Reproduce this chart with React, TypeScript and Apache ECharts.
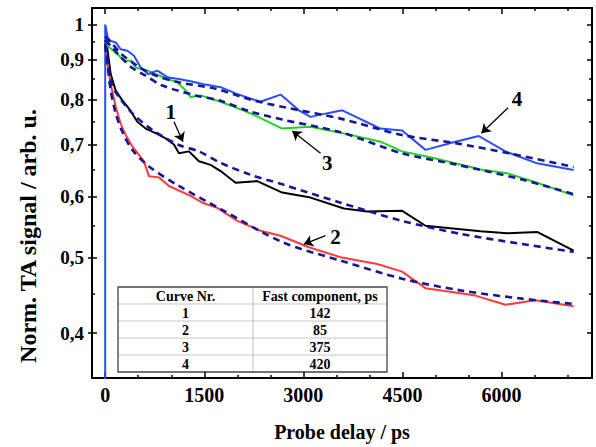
import React, { useEffect, useRef } from "react";
import * as echarts from "echarts";

// ---- data (time in ps, normalized signal) ----
const curve1Black: [number, number][] = [
  [0, 0.955], [33, 0.93], [83, 0.863], [159, 0.822], [260, 0.798], [360, 0.779], [487, 0.749],
  [613, 0.734], [764, 0.724], [915, 0.713], [1041, 0.7], [1117, 0.682], [1268, 0.686],
  [1419, 0.666], [1596, 0.659], [1747, 0.647], [1974, 0.625], [2302, 0.628], [2680, 0.607],
  [3109, 0.598], [3613, 0.579], [3966, 0.574], [4496, 0.575], [4849, 0.55], [5681, 0.541],
  [6085, 0.538], [6538, 0.54], [7092, 0.511],
];
const curve2Red: [number, number][] = [
  [0, 0.93], [33, 0.889], [83, 0.838], [159, 0.783], [234, 0.745], [310, 0.72], [411, 0.696],
  [587, 0.666], [663, 0.637], [814, 0.635], [965, 0.619], [1293, 0.601], [1470, 0.589],
  [1697, 0.58], [2000, 0.558], [2352, 0.542], [2655, 0.534], [3083, 0.516], [3563, 0.501],
  [4118, 0.491], [4496, 0.48], [4849, 0.457], [5378, 0.45], [5605, 0.447], [6059, 0.435],
  [6513, 0.441], [7092, 0.433],
];
const curve3Green: [number, number][] = [
  [0, 0.955], [33, 0.938], [159, 0.92], [284, 0.898], [386, 0.898], [461, 0.88], [638, 0.872],
  [941, 0.851], [1092, 0.842], [1230, 0.82], [1293, 0.806], [1445, 0.81], [1747, 0.795],
  [2000, 0.78], [2200, 0.768], [2680, 0.734], [3109, 0.738], [3664, 0.722], [4168, 0.706],
  [4496, 0.686], [4924, 0.674], [5681, 0.65], [6085, 0.643], [6538, 0.625], [7092, 0.602],
];
const curve4Blue: [number, number][] = [
  [0, 0.3], [0, 1.0], [40, 0.96], [85, 0.952], [159, 0.948], [234, 0.929], [336, 0.925],
  [436, 0.911], [537, 0.88], [650, 0.863], [790, 0.872], [941, 0.855], [1092, 0.851],
  [1293, 0.845], [1470, 0.838], [1747, 0.83], [1974, 0.815], [2204, 0.802], [2352, 0.795],
  [2655, 0.812], [2932, 0.775], [3109, 0.76], [3386, 0.769], [3589, 0.775], [3891, 0.753],
  [4168, 0.734], [4496, 0.73], [4849, 0.689], [5303, 0.706], [5655, 0.718], [6059, 0.686],
  [6538, 0.662], [7092, 0.649],
];
const fit1: [number, number][] = [
  [0, 0.945], [40, 0.9], [83, 0.846], [150, 0.82], [209, 0.806], [411, 0.768], [714, 0.731],
  [1117, 0.699], [1419, 0.686], [1747, 0.663], [2200, 0.64], [2680, 0.622], [3563, 0.589],
  [4496, 0.558], [5378, 0.537], [6311, 0.521], [7092, 0.509],
];
const fit2: [number, number][] = [
  [0, 0.94], [40, 0.88], [83, 0.822], [159, 0.768], [260, 0.727], [411, 0.689], [663, 0.656],
  [1117, 0.619], [1747, 0.578], [2680, 0.524], [3563, 0.496], [4496, 0.47], [5378, 0.454],
  [6311, 0.443], [7092, 0.436],
];
const fit3: [number, number][] = [
  [0, 0.955], [100, 0.935], [250, 0.905], [400, 0.88], [600, 0.86], [865, 0.834], [1369, 0.81],
  [1747, 0.797], [2200, 0.772], [2680, 0.754], [3563, 0.726], [4496, 0.682], [5303, 0.66],
  [6311, 0.631], [7092, 0.604],
];
const fit4: [number, number][] = [
  [0, 0.965], [100, 0.945], [250, 0.915], [400, 0.895], [562, 0.876], [800, 0.857],
  [1117, 0.842], [1672, 0.826], [2200, 0.8], [2680, 0.783], [3563, 0.756], [4496, 0.72],
  [5303, 0.703], [6109, 0.682], [7092, 0.655],
];

const xMajor = [0, 1500, 3000, 4500, 6000];
const xMinor = [500, 1000, 2000, 2500, 3500, 4000, 5000, 5500, 6500, 7000];
const yMajor = [0.4, 0.5, 0.6, 0.7, 0.8, 0.9, 1];
const yMinor = [0.45, 0.55, 0.65, 0.75, 0.85, 0.95];

const xTitle = "Probe delay / ps";
const yTitle = "Norm. TA signal / arb. u.";

const tableHeader = ["Curve Nr.", "Fast component, ps"];
const tableCurve = ["1", "2", "3", "4"];
const tableFast = ["142", "85", "375", "420"];

// annotations (data coordinates)
const annoText = ["1", "2", "3", "4"];
const annoTextAt: [number, number][] = [[991, 0.772], [3487, 0.532], [3362, 0.663], [6236, 0.802]];
const arrowFrom: [number, number][] = [[1041, 0.749], [3336, 0.534], [3260, 0.682], [6100, 0.781]];
const arrowTo: [number, number][] = [[1177, 0.706], [3008, 0.521], [2832, 0.729], [5696, 0.724]];

const FONT = '"Liberation Serif", "Times New Roman", serif';
const X_MIN = -200;
const X_MAX = 7370;
const Y_MIN = Math.log(0.35);
const Y_MAX = Math.log(1.05);

const ln = (d: [number, number][]) => d.map(([t, v]) => [t, Math.log(v)]);

function xAxisDef(position: string, values: number[], len: number, showLine: boolean, withLabel: boolean) {
  return {
    type: "value",
    position,
    min: X_MIN,
    max: X_MAX,
    splitLine: { show: false },
    axisLine: { show: showLine, onZero: false, lineStyle: { color: "#000", width: 2 } },
    axisTick: { show: true, inside: true, length: len, customValues: values, lineStyle: { color: "#000", width: 1.5 } },
    axisLabel: withLabel
      ? {
          show: true,
          customValues: values,
          fontFamily: FONT,
          fontWeight: "bold",
          fontSize: 20,
          color: "#000",
          margin: 7,
          formatter: (v: number) => String(Math.round(v)),
        }
      : { show: false },
    name: withLabel ? xTitle : "",
    nameLocation: "middle",
    nameGap: 44,
    nameTextStyle: { fontFamily: FONT, fontWeight: "bold", fontSize: 20, color: "#000" },
  };
}

function yAxisDef(position: string, values: number[], len: number, inside: boolean, showLine: boolean, withLabel: boolean) {
  return {
    type: "value",
    position,
    min: Y_MIN,
    max: Y_MAX,
    splitLine: { show: false },
    axisLine: { show: showLine, onZero: false, lineStyle: { color: "#000", width: 2 } },
    axisTick: { show: true, inside, length: len, customValues: values.map((v) => Math.log(v)), lineStyle: { color: "#000", width: 1.5 } },
    axisLabel: withLabel
      ? {
          show: true,
          customValues: values.map((v) => Math.log(v)),
          fontFamily: FONT,
          fontWeight: "bold",
          fontSize: 19,
          color: "#000",
          margin: 8,
          formatter: (val: number) => {
            const r = Math.round(Math.exp(val) * 10) / 10;
            return r === 1 ? "1" : r.toFixed(1).replace(".", ",");
          },
        }
      : { show: false },
  };
}

function annotation(i: number) {
  return {
    markLine: {
      silent: true,
      animation: false,
      symbol: ["none", "arrow"],
      symbolSize: 9,
      label: { show: false },
      lineStyle: { color: "#000", width: 1.3, type: "solid" },
      data: [[
        { coord: [arrowFrom[i][0], Math.log(arrowFrom[i][1])] },
        { coord: [arrowTo[i][0], Math.log(arrowTo[i][1])] },
      ]],
    },
    markPoint: {
      silent: true,
      animation: false,
      symbol: "circle",
      symbolSize: 1,
      itemStyle: { color: "rgba(0,0,0,0)" },
      label: { show: true, position: "inside", formatter: "{b}", color: "#000", fontFamily: FONT, fontWeight: "bold", fontSize: 21 },
      data: [{ name: annoText[i], coord: [annoTextAt[i][0], Math.log(annoTextAt[i][1])] }],
    },
  };
}

function dataSeries(name: string, d: [number, number][], color: string, annoIdx: number) {
  return {
    name,
    type: "line",
    data: ln(d),
    showSymbol: false,
    symbol: "none",
    clip: true,
    lineStyle: { color, width: 2 },
    z: 2,
    ...annotation(annoIdx),
  };
}

function fitSeries(name: string, d: [number, number][]) {
  return {
    name,
    type: "line",
    data: ln(d),
    showSymbol: false,
    symbol: "none",
    smooth: 0.3,
    clip: true,
    lineStyle: { color: "#16169a", width: 2.6, type: [7, 5] },
    z: 3,
  };
}

function buildGraphics() {
  const left = 118;
  const top = 287;
  const w = 269;
  const rowH = 17;
  const colX = 135;
  const children: any[] = [];
  children.push({ type: "rect", shape: { x: 0, y: 0, width: w, height: rowH * 5 }, style: { fill: "#fff", stroke: "none" } });
  for (let r = 1; r < 5; r++) {
    children.push({ type: "line", shape: { x1: 0, y1: r * rowH, x2: w, y2: r * rowH }, style: { stroke: "#c8c8c8", lineWidth: 1.2 } });
  }
  children.push({ type: "line", shape: { x1: colX, y1: 0, x2: colX, y2: rowH * 5 }, style: { stroke: "#c8c8c8", lineWidth: 1.2 } });
  children.push({ type: "rect", shape: { x: 0, y: 0, width: w, height: rowH * 5 }, style: { fill: "none", stroke: "#444", lineWidth: 1.3 } });
  const c1 = colX / 2;
  const c2 = colX + (w - colX) / 2;
  const txt = (s: string, x: number, y: number) => ({
    type: "text",
    style: { text: s, x, y, align: "center", verticalAlign: "middle", fill: "#000", fontFamily: FONT, fontWeight: "bold", fontSize: 14 },
  });
  children.push(txt(tableHeader[0], c1, rowH / 2 + 0.5));
  children.push(txt(tableHeader[1], c2, rowH / 2 + 0.5));
  for (let i = 0; i < tableCurve.length; i++) {
    children.push(txt(tableCurve[i], c1, rowH * (i + 1) + rowH / 2 + 0.5));
    children.push(txt(tableFast[i], c2, rowH * (i + 1) + rowH / 2 + 0.5));
  }
  return [
    { type: "group", x: left, y: top, z: 100, children },
    {
      type: "text",
      x: 28,
      y: 236,
      rotation: Math.PI / 2,
      z: 100,
      style: { text: yTitle, x: 0, y: 0, align: "center", verticalAlign: "middle", fill: "#000", fontFamily: FONT, fontWeight: "bold", fontSize: 24 },
    },
  ];
}

export default function App() {
  const ref = useRef<HTMLDivElement>(null);
  useEffect(() => {
    if (!ref.current) return;
    const chart = echarts.init(ref.current, undefined, { renderer: "svg" });
    chart.setOption({
      animation: false,
      backgroundColor: "#fff",
      grid: { left: 92, right: 4, top: 8, bottom: 65, containLabel: false },
      xAxis: [
        xAxisDef("bottom", xMajor, 6, true, true),
        xAxisDef("bottom", xMinor, 3, false, false),
        xAxisDef("top", xMajor, 6, true, false),
        xAxisDef("top", xMinor, 3, false, false),
      ],
      yAxis: [
        yAxisDef("left", yMajor, 4, false, true, true),
        yAxisDef("left", yMajor, 5, true, false, false),
        yAxisDef("left", yMinor, 3, true, false, false),
        yAxisDef("right", yMajor, 5, true, true, false),
        yAxisDef("right", yMinor, 3, true, false, false),
      ],
      series: [
        dataSeries("Curve 1", curve1Black, "#000000", 0),
        dataSeries("Curve 2", curve2Red, "#ff3b3b", 1),
        dataSeries("Curve 3", curve3Green, "#22d022", 2),
        dataSeries("Curve 4", curve4Blue, "#2a4cff", 3),
        fitSeries("Fit 1", fit1),
        fitSeries("Fit 2", fit2),
        fitSeries("Fit 3", fit3),
        fitSeries("Fit 4", fit4),
      ],
      graphic: buildGraphics(),
    });
    return () => chart.dispose();
  }, []);
  return <div ref={ref} style={{ position: "fixed", left: 0, top: 0, width: 596, height: 447 }} />;
}
